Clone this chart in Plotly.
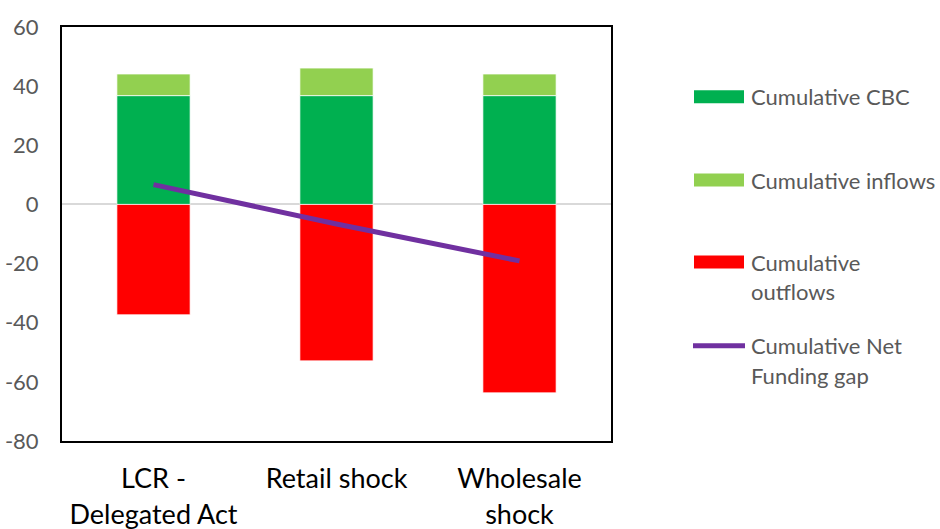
import plotly.graph_objects as go

# Scenario categories and their axis labels
scenarios = ["LCR - Delegated Act", "Retail shock", "Wholesale shock"]
tick_labels = ["LCR -<br>Delegated Act", "Retail shock", "Wholesale<br>shock"]

# Value-axis ticks (hyphen minus, as in the source workbook)
y_ticks = [-80, -60, -40, -20, 0, 20, 40, 60]
y_tick_labels = ["-80", "-60", "-40", "-20", "0", "20", "40", "60"]

# Cumulative liquidity components per scenario
cumulative_cbc = [36.8, 36.8, 36.8]
cumulative_inflows = [7.3, 9.3, 7.3]
cumulative_outflows = [-37.3, -52.9, -63.7]
net_funding_gap = [6.7, -6.6, -19.1]

series_names = ["Cumulative CBC", "Cumulative inflows", "Cumulative<br>outflows",
                "Cumulative Net<br>Funding gap"]

C_CBC = "#00B050"
C_IN = "#92D050"
C_OUT = "#FF0000"
C_NET = "#7030A0"

W, H = 940, 529
PL, PR, PT, PB = 62, 611, 27, 441  # plot-area pixel box


def px_x(x):
    return (x - PL) / (PR - PL)


def px_y(y):
    return (PB - y) / (PB - PT)


fig = go.Figure()
edge = dict(color="rgba(255,255,255,0.7)", width=1)
fig.add_trace(go.Bar(x=scenarios, y=cumulative_cbc, marker=dict(color=C_CBC, line=edge),
                     showlegend=False))
fig.add_trace(go.Bar(x=scenarios, y=cumulative_inflows, marker=dict(color=C_IN, line=edge),
                     showlegend=False))
fig.add_trace(go.Bar(x=scenarios, y=cumulative_outflows, marker=dict(color=C_OUT, line=edge),
                     showlegend=False))
fig.add_trace(go.Scatter(x=scenarios, y=net_funding_gap, mode="lines",
                         line=dict(color=C_NET, width=5), showlegend=False))

# Hand-placed legend on the right
shapes = []
annotations = []
legend_rows = [
    (series_names[0], "bar", C_CBC, 96.7),
    (series_names[1], "bar", C_IN, 180),
    (series_names[2], "bar", C_OUT, 262),
    (series_names[3], "line", C_NET, 345.7),
]
for name, kind, color, yc in legend_rows:
    if kind == "bar":
        shapes.append(dict(type="rect", xref="paper", yref="paper",
                           x0=px_x(694), x1=px_x(744), y0=px_y(yc + 6.5), y1=px_y(yc - 6.5),
                           fillcolor=color, line=dict(width=0)))
    else:
        shapes.append(dict(type="line", xref="paper", yref="paper",
                           x0=px_x(693), x1=px_x(745), y0=px_y(yc), y1=px_y(yc),
                           line=dict(color=color, width=5)))
    for i, part in enumerate(name.split("<br>")):
        annotations.append(dict(text=part, xref="paper", yref="paper",
                                x=px_x(749), y=px_y(yc + i * 29.5),
                                xanchor="left", yanchor="middle", showarrow=False,
                                font=dict(family="Lato", size=22, color="#595959")))

fig.update_layout(
    width=W, height=H,
    margin=dict(l=PL, r=W - PR, t=PT, b=H - PB),
    paper_bgcolor="white", plot_bgcolor="white",
    barmode="relative", bargap=0.6,
    shapes=shapes, annotations=annotations,
    font=dict(family="Lato"),
)
fig.update_xaxes(
    tickvals=scenarios, ticktext=tick_labels, automargin=False,
    showline=True, mirror=True, linecolor="black", linewidth=2,
    showgrid=False, ticks="", ticklabelstandoff=13,
    tickfont=dict(family="Lato", size=27, color="black"),
)
fig.update_yaxes(
    range=[-80, 60], tickvals=y_ticks, ticktext=y_tick_labels, automargin=False,
    showline=True, mirror=True, linecolor="black", linewidth=2,
    showgrid=False, zeroline=True, zerolinecolor="#D9D9D9", zerolinewidth=2,
    ticks="", ticklabelstandoff=17,
    tickfont=dict(family="Lato", size=22, color="#595959"),
)

fig.write_html("out.html")
